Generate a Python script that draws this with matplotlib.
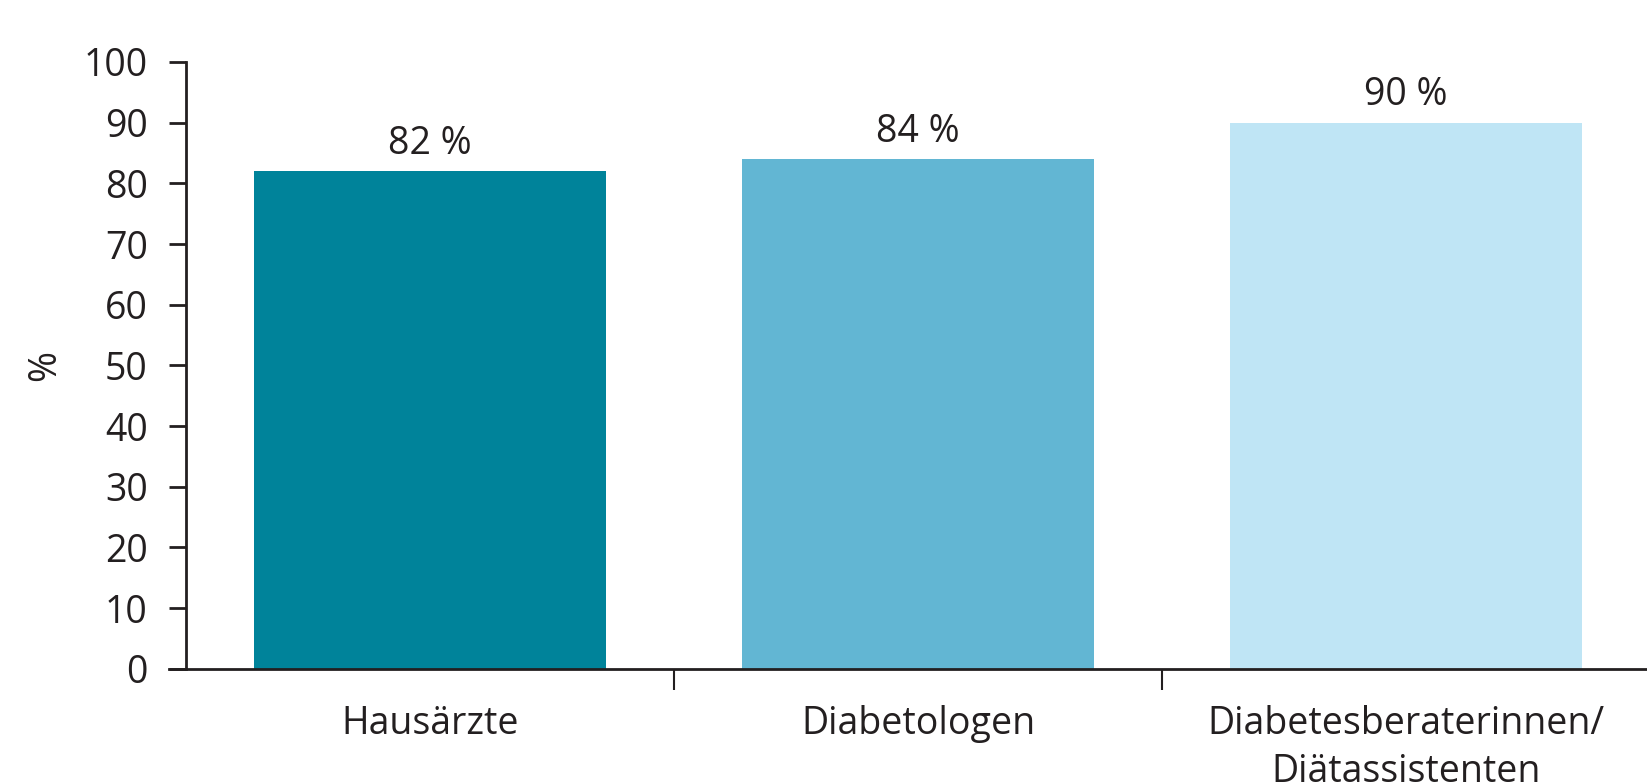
import matplotlib.pyplot as plt

# Anteil je Berufsgruppe
categories = ["Hausärzte", "Diabetologen", "Diabetesberaterinnen/\nDiätassistenten"]
values = [82, 84, 90]
bar_colors = ["#00839a", "#62b6d3", "#bfe5f5"]
yticks = list(range(0, 101, 10))

ink = "#231f20"
plt.rcParams["font.family"] = ["Open Sans", "DejaVu Sans"]

fig = plt.figure(figsize=(16.47, 7.84), dpi=100)
ax = fig.add_axes([186 / 1647, 1 - 668.7 / 784, (1650 - 186) / 1647, (668.7 - 62) / 784])

x = range(len(categories))
bars = ax.bar(x, values, width=0.72, color=bar_colors, zorder=2)

for rect, v in zip(bars, values):
    ax.annotate(f"{v} %", (rect.get_x() + rect.get_width() / 2, rect.get_height()),
                xytext=(0, 6), textcoords="offset points",
                ha="center", va="bottom", fontsize=27, color=ink)

ax.set_xlim(-0.5, len(categories) - 0.5)
ax.set_ylim(0, 100)
ax.set_yticks(yticks)
ax.set_xticks(list(x))
ax.set_xticklabels(categories, fontsize=27, color=ink, linespacing=1.35)
ax.set_xticks([0.5, 1.5], minor=True)

ax.tick_params(axis="y", direction="out", length=12.5, width=2, color=ink,
               labelsize=27, labelcolor=ink, pad=15)
ax.tick_params(axis="x", which="major", length=0, pad=26)
ax.tick_params(axis="x", which="minor", direction="out", length=15, width=1.5, color=ink)

for side in ("top", "right"):
    ax.spines[side].set_visible(False)
ax.spines["left"].set_color(ink)
ax.spines["left"].set_linewidth(2)
ax.spines["bottom"].set_color(ink)
ax.spines["bottom"].set_linewidth(2)
ax.spines["bottom"].set_bounds(-0.5 - 17 / 488, len(categories) - 0.5)

ax.set_ylabel("%", fontsize=27, color=ink, labelpad=14)

fig.savefig("out.png", dpi=100, facecolor="white")
